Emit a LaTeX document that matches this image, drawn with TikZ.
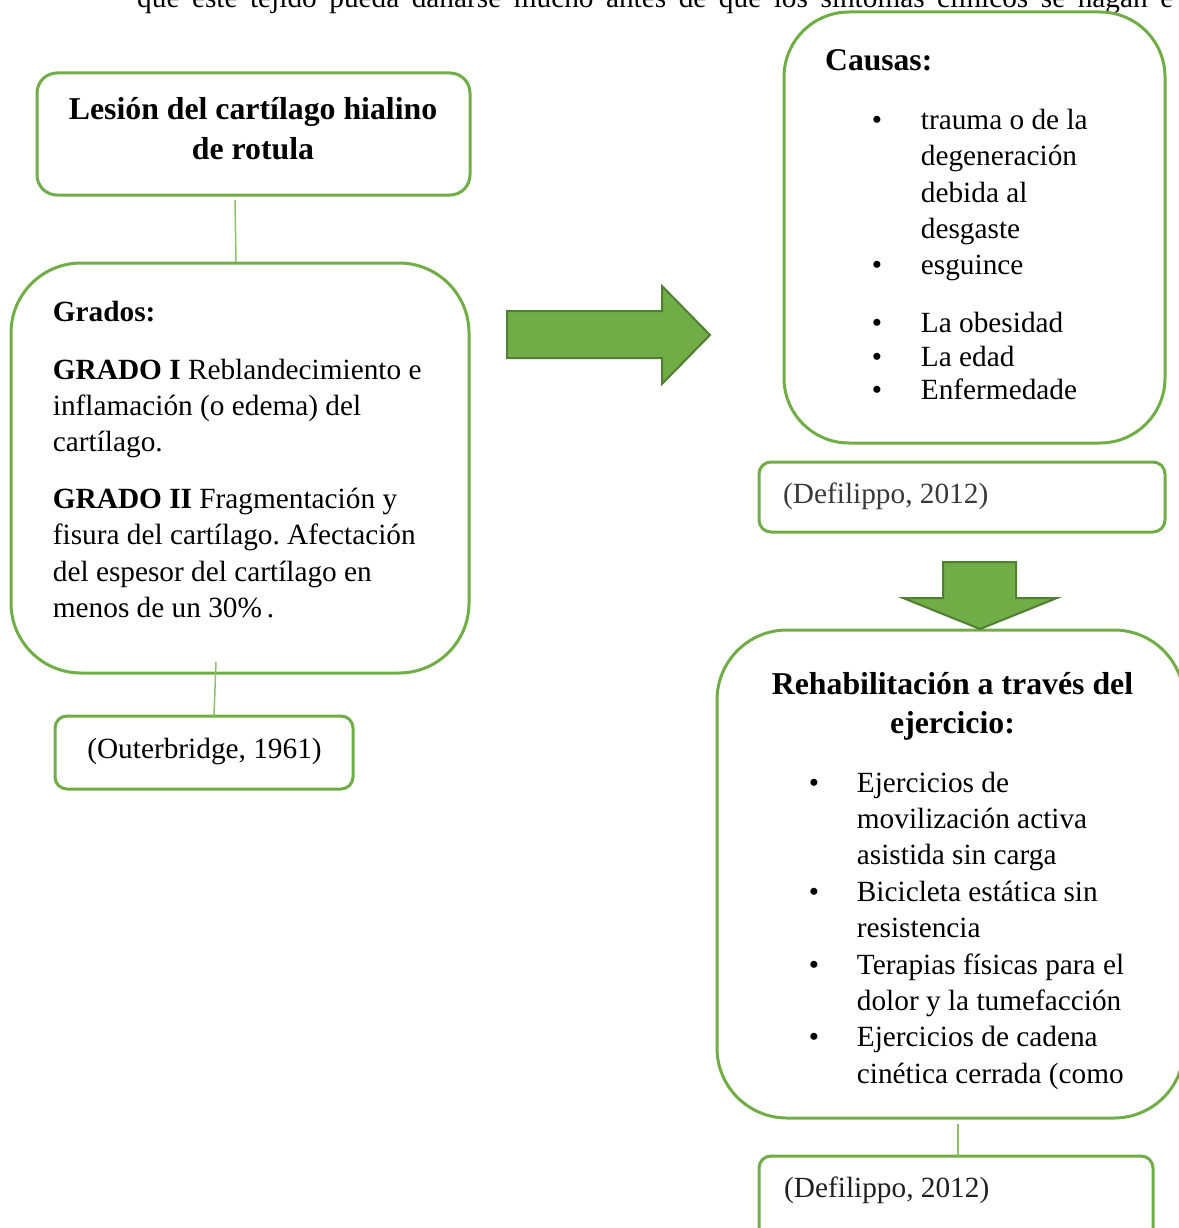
\documentclass[tikz,border=0pt]{standalone}
\usepackage{fontspec}
\setmainfont{Liberation Serif}
\frenchspacing
\definecolor{ogreen}{HTML}{70AD47}
\definecolor{dgreen}{HTML}{507E32}
\definecolor{lgreen}{HTML}{8CC168}
\tikzset{
  box/.style={draw=ogreen, line width=3pt, rectangle, inner sep=0pt, outer sep=0pt},
  conn/.style={draw=lgreen, line width=1.5pt},
  blockarrow/.style={fill=ogreen, draw=dgreen, line width=2pt, line join=miter},
  txt/.style={anchor=base west, inner sep=0pt, font=\fontsize{29.3}{36.3}\selectfont},
  ctxt/.style={anchor=base, inner sep=0pt, font=\fontsize{29.3}{36.3}\selectfont},
  ttl/.style={anchor=base, inner sep=0pt, font=\fontsize{31.8}{39}\selectfont\bfseries},
  bul/.style={anchor=base, inner sep=0pt, font=\fontsize{29.3}{36.3}\selectfont}
}
\begin{document}
\begin{tikzpicture}[x=1pt,y=-1pt]
\useasboundingbox (0,0) rectangle (1178,1228);
% cut-off line of text at the top (justified line)
\node[txt] (toptext) at (137,8) {\makebox[1036pt][s]{que este tejido pueda dañarse mucho antes de que los síntomas clínicos se hagan e}};

% boxes
\node[box, rounded corners=20pt, minimum width=433pt, minimum height=122pt] (lesion) at (253.5,134) {};
\node[box, rounded corners=70pt, minimum width=458pt, minimum height=410pt] (grados) at (240,468) {};
\node[box, rounded corners=12pt, minimum width=298pt, minimum height=73pt] (outer) at (204,752.5) {};
\node[box, rounded corners=65pt, minimum width=381pt, minimum height=431pt] (causas) at (974.5,227.5) {};
\node[box, rounded corners=12pt, minimum width=406pt, minimum height=70pt] (def1) at (962,497) {};
\node[box, rounded corners=70pt, minimum width=467pt, minimum height=488pt] (rehab) at (950.5,874) {};
\node[box, rounded corners=12pt, minimum width=394pt, minimum height=84pt] (def2) at (956,1198) {};

% connectors
\coordinate (c1a) at (235,200);
\coordinate (c1b) at (236,262);
\coordinate (c2a) at (216,662);
\coordinate (c2b) at (214,716);
\coordinate (c3a) at (958,1124);
\draw[conn] (c1a) -- (c1b);
\draw[conn] (c2a) -- (c2b);
\draw[conn] (c3a) -- (c3a |- def2.north);

% block arrows
\filldraw[blockarrow] (507,311) -- (662,311) -- (662,286) -- (710,335) -- (662,384) -- (662,358) -- (507,358) -- cycle;
\filldraw[blockarrow] (943,562) -- (1016,562) -- (1016,598) -- (1057,598) -- (980,629) -- (903,598) -- (943,598) -- cycle;

% Lesion text
\node[ttl] (l1) at (253,120) {Lesión del cartílago hialino};
\node[ttl] (l2) at (253,159) {de rotula};

% Grados text
\node[txt, font=\fontsize{29.3}{36.3}\selectfont\bfseries] (g0) at (52.7,321.7) {Grados:};
\node[txt] (g1) at (52.7,379) {\textbf{GRADO I} Reblandecimiento e};
\node[txt] (g2) at (52.7,415.3) {inflamación (o edema) del};
\node[txt] (g3) at (52.7,451.6) {cartílago.};
\node[txt] (g4) at (52.7,508.5) {\textbf{GRADO II} Fragmentación y};
\node[txt] (g5) at (52.7,544.8) {fisura del cartílago. Afectación};
\node[txt] (g6) at (52.7,581.1) {del espesor del cartílago en};
\node[txt] (g7) at (52.7,617.4) {menos de un 30\%\,.};

% Outerbridge
\node[ctxt] (o1) at (204.5,758) {(Outerbridge, 1961)};

% Causas
\node[txt, font=\fontsize{31.6}{39}\selectfont\bfseries] (k0) at (825,70.7) {Causas:};
\node[bul] (kb1) at (877,129.3) {•};
\node[txt] (k1) at (920.7,129.3) {trauma o de la};
\node[txt] (k2) at (920.7,165.7) {degeneración};
\node[txt] (k3) at (920.7,202.1) {debida al};
\node[txt] (k4) at (920.7,238.5) {desgaste};
\node[bul] (kb5) at (877,274.9) {•};
\node[txt] (k5) at (920.7,274.9) {esguince};
\node[bul] (kb6) at (877,332) {•};
\node[txt] (k6) at (920.7,332) {La obesidad};
\node[bul] (kb7) at (877,366.5) {•};
\node[txt] (k7) at (920.7,366.5) {La edad};
\node[bul] (kb8) at (877,399.5) {•};
\node[txt] (k8) at (920.7,399.5) {Enfermedade};

% Defilippo 1
\node[txt, text=black!78] (d1) at (783,503) {(Defilippo, 2012)};

% Rehab
\node[ttl] (r0) at (952.5,694) {Rehabilitación a través del};
\node[ttl] (r00) at (952.5,733) {ejercicio:};
\node[bul] (rb1) at (814,792) {•};
\node[txt] (r1) at (856.7,792) {Ejercicios de};
\node[txt] (r2) at (856.7,828.4) {movilización activa};
\node[txt] (r3) at (856.7,864.8) {asistida sin carga};
\node[bul] (rb4) at (814,901.2) {•};
\node[txt] (r4) at (856.7,901.2) {Bicicleta estática sin};
\node[txt] (r5) at (856.7,937.6) {resistencia};
\node[bul] (rb6) at (814,974) {•};
\node[txt] (r6) at (856.7,974) {Terapias físicas para el};
\node[txt] (r7) at (856.7,1010.4) {dolor y la tumefacción};
\node[bul] (rb8) at (814,1046.8) {•};
\node[txt] (r8) at (856.7,1046.8) {Ejercicios de cadena};
\node[txt] (r9) at (856.7,1083.2) {cinética cerrada (como};

% Defilippo 2
\node[txt, text=black!88] (d2) at (784,1197) {(Defilippo, 2012)};
\end{tikzpicture}
\end{document}
